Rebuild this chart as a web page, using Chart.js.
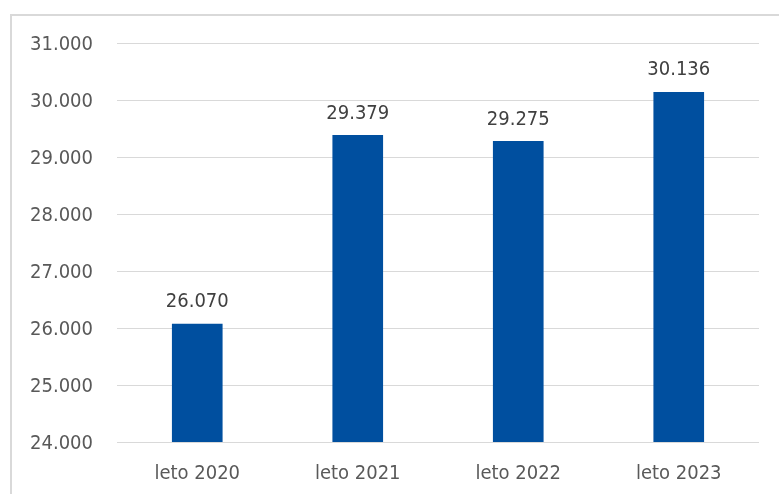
<!DOCTYPE html>
<html>
<head>
<meta charset="utf-8">
<script src="https://cdn.jsdelivr.net/npm/chart.js@4"></script>
<style>
  html, body { margin: 0; padding: 0; background: #ffffff; }
  #wrap { position: relative; width: 779px; height: 494px; overflow: hidden; }
  #frame { position: absolute; left: 10px; top: 14px; width: 900px; height: 600px; border: 2px solid #d9d9d9; box-sizing: border-box; }
  canvas { position: absolute; left: 0; top: 0; }
</style>
</head>
<body>
<div id="wrap">
  <div id="frame"></div>
  <canvas id="c" width="779" height="494"></canvas>
</div>
<script>
const categories = ["leto 2020", "leto 2021", "leto 2022", "leto 2023"];
const values = [26070, 29379, 29275, 30136];
const yMin = 24000, yMax = 31000, yStep = 1000;

const FONT = "'DejaVu Sans Condensed', 'DejaVu Sans', sans-serif";
const fmt = v => Math.round(v).toString().replace(/\B(?=(\d{3})+(?!\d))/g, ".");

const labelPlugin = {
  id: 'valueLabels',
  afterDatasetsDraw(chart) {
    const ctx = chart.ctx;
    const meta = chart.getDatasetMeta(0);
    ctx.save();
    ctx.font = "20px " + FONT;
    ctx.fillStyle = "#404040";
    ctx.textAlign = "center";
    ctx.textBaseline = "middle";
    meta.data.forEach((bar, i) => {
      ctx.fillText(fmt(values[i]), bar.x, bar.y - 22);
    });
    ctx.restore();
  }
};

new Chart(document.getElementById('c'), {
  type: 'bar',
  data: {
    labels: categories,
    datasets: [{
      data: values,
      backgroundColor: '#004f9f',
      barThickness: 50,
      borderWidth: 0
    }]
  },
  options: {
    responsive: false,
    animation: false,
    events: [],
    layout: { padding: { top: 43, right: 20, bottom: 10, left: 0 } },
    plugins: { legend: { display: false }, tooltip: { enabled: false } },
    scales: {
      x: {
        afterFit(scale) { scale.height = 42; },
        grid: { display: false },
        border: { display: false },
        ticks: { color: '#595959', font: { family: FONT, size: 20 }, padding: 12, maxRotation: 0 }
      },
      y: {
        min: yMin, max: yMax,
        afterFit(scale) { scale.width = 117; },
        grid: { color: '#d9d9d9', lineWidth: 1, drawTicks: false },
        border: { display: false },
        ticks: {
          stepSize: yStep,
          color: '#595959',
          font: { family: FONT, size: 20 },
          padding: 24,
          labelOffset: 2,
          callback: v => fmt(v)
        }
      }
    }
  },
  plugins: [labelPlugin]
});
</script>
</body>
</html>
